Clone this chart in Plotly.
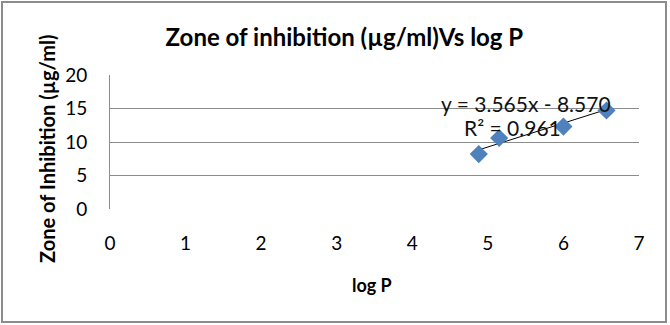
import plotly.graph_objects as go

log_p = [4.88, 5.15, 6.00, 6.57]
zone = [8.2, 10.6, 12.3, 14.7]
slope = 3.565
intercept = -8.570
r2 = 0.961
x_ticks = [0, 1, 2, 3, 4, 5, 6, 7]
y_ticks = [0, 5, 10, 15, 20]

FONT = "Lato"
L, R, T, B = 110, 31, 75, 116
PW, PH = 670 - L - R, 325 - T - B

def px(x):
    return (x - L) / PW

def py(y):
    return (325 - B - y) / PH

trend_x = [min(log_p), max(log_p)]
trend_y = [slope * v + intercept for v in trend_x]

fig = go.Figure()
fig.add_trace(go.Scatter(x=trend_x, y=trend_y, mode="lines",
                         line=dict(color="black", width=1), showlegend=False, hoverinfo="skip"))
fig.add_trace(go.Scatter(x=log_p, y=zone, mode="markers",
                         marker=dict(symbol="diamond", size=14, color="#4F81BD",
                                     line=dict(width=0)), showlegend=False))

fig.add_annotation(x=5.50, y=15.7, xref="x", yref="y", xanchor="center", yanchor="middle",
                   text=f"y = {slope:.3f}x - {abs(intercept):.3f}", showarrow=False,
                   font=dict(family=FONT, size=21, color="#111"))
fig.add_annotation(x=5.33, y=12.1, xref="x", yref="y", xanchor="center", yanchor="middle",
                   text=f"R² = {r2:.3f}", showarrow=False,
                   font=dict(family=FONT, size=21, color="#111"))

# axis titles
fig.add_annotation(x=px(47), y=py(149), xref="paper", yref="paper", textangle=-90,
                   xanchor="center", yanchor="middle",
                   text="<b>Zone of Inhibition (µg/ml)</b>", showarrow=False,
                   font=dict(family=FONT, size=20, color="black"))
fig.add_annotation(x=px(372), y=py(285), xref="paper", yref="paper",
                   xanchor="center", yanchor="middle",
                   text="<b>log P</b>", showarrow=False,
                   font=dict(family=FONT, size=18, color="black"))

# outer chart border
fig.add_shape(type="rect", xref="paper", yref="paper",
              x0=px(2), x1=px(666), y0=py(322), y1=py(2),
              line=dict(color="#8c8c8c", width=2))

fig.update_layout(
    width=670, height=325,
    margin=dict(l=L, r=R, t=T, b=B),
    plot_bgcolor="white", paper_bgcolor="white",
    title=dict(text="<b>Zone of inhibition (µg/ml)Vs log P</b>", x=0.514, xanchor="center",
               y=0.883, yanchor="middle",
               font=dict(family=FONT, size=24, color="black")),
    font=dict(family=FONT, size=19, color="black"),
)
fig.update_xaxes(range=[0, 7], tickvals=x_ticks, showgrid=False, zeroline=False,
                 showline=False, ticks="", ticklabelstandoff=21,
                 tickfont=dict(family=FONT, size=19))
fig.update_yaxes(range=[0, 20], tickvals=y_ticks, showgrid=True, gridcolor="#8c8c8c",
                 gridwidth=1, zeroline=False, showline=True, linecolor="#8c8c8c",
                 linewidth=1, ticks="", ticklabelstandoff=18,
                 tickfont=dict(family=FONT, size=19))
fig.write_html("out.html")
